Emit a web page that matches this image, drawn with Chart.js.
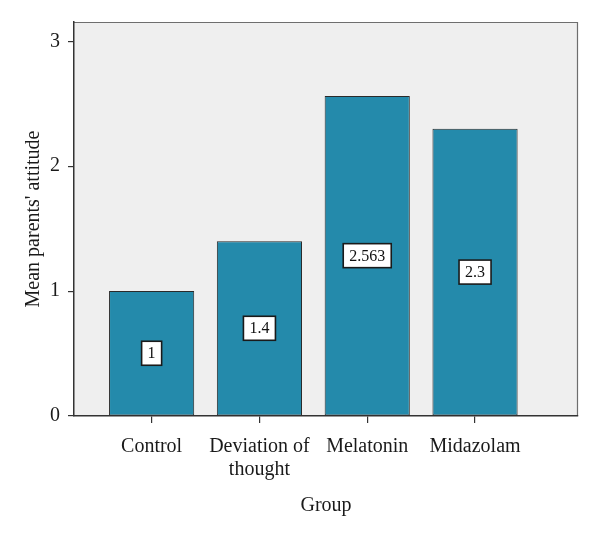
<!DOCTYPE html>
<html>
<head>
<meta charset="utf-8">
<script src="https://cdn.jsdelivr.net/npm/chart.js@4/dist/chart.umd.min.js"></script>
<style>
  html, body { margin: 0; padding: 0; background: #fff; }
  #wrap { width: 600px; height: 538px; }
</style>
</head>
<body>
<div id="wrap"><canvas id="grafico"></canvas></div>
<script>
const groups = ["Control", ["Deviation of", "thought"], "Melatonin", "Midazolam"];
const meanAttitude = [1, 1.4, 2.563, 2.3];
const valueLabels = ["1", "1.4", "2.563", "2.3"];
const yTicks = [0, 1, 2, 3];

const SERIF = "'Liberation Serif', 'DejaVu Serif', serif";

// plot background and frame
const plotFrame = {
  id: "plotFrame",
  beforeDraw(chart) {
    const { ctx, chartArea: a } = chart;
    ctx.save();
    ctx.fillStyle = "#efefef";
    ctx.fillRect(a.left, a.top, a.right - a.left, a.bottom - a.top);
    ctx.strokeStyle = "#6e6e6e";
    ctx.lineWidth = 1.2;
    ctx.beginPath();
    ctx.moveTo(a.left, a.top + 0.5);
    ctx.lineTo(a.right - 0.5, a.top + 0.5);
    ctx.lineTo(a.right - 0.5, a.bottom);
    ctx.stroke();
    ctx.restore();
  },
};

// white value boxes in the middle of each bar
const valueBoxes = {
  id: "valueBoxes",
  afterDatasetsDraw(chart) {
    const { ctx } = chart;
    const meta = chart.getDatasetMeta(0);
    ctx.save();
    ctx.font = "16px " + SERIF;
    ctx.textAlign = "center";
    ctx.textBaseline = "middle";
    meta.data.forEach((bar, i) => {
      const text = valueLabels[i];
      const cx = bar.x;
      const cy = (bar.y + bar.base) / 2;
      const w = ctx.measureText(text).width + 12;
      const h = 24;
      ctx.fillStyle = "#ffffff";
      ctx.fillRect(cx - w / 2, cy - h / 2, w, h);
      ctx.strokeStyle = "#1a1a1a";
      ctx.lineWidth = 1.6;
      ctx.strokeRect(cx - w / 2, cy - h / 2, w, h);
      ctx.fillStyle = "#111";
      ctx.fillText(text, cx, cy + 1);
    });
    ctx.restore();
  },
};

new Chart(document.getElementById("grafico"), {
  type: "bar",
  data: {
    datasets: [
      {
        data: meanAttitude.map((v, i) => ({ x: i, y: v })),
        backgroundColor: "rgb(36, 138, 171)",
        borderColor: "#2a2a2a",
        borderWidth: 1,
        borderSkipped: false,
        barPercentage: 0.79,
        categoryPercentage: 1,
      },
    ],
  },
  options: {
    responsive: true,
    maintainAspectRatio: false,
    animation: false,
    layout: { padding: { top: 22, right: 22, left: 22, bottom: 0 } },
    plugins: {
      legend: { display: false },
      tooltip: { enabled: false },
    },
    scales: {
      x: {
        type: "linear",
        offset: false,
        min: -0.72,
        max: 3.955,
        afterBuildTicks: (scale) => {
          scale.ticks = groups.map((_, i) => ({ value: i }));
        },
        afterFit: (scale) => {
          scale.height = 122;
        },
        ticks: {
          autoSkip: false,
          maxRotation: 0,
          padding: 12,
          color: "#1a1a1a",
          font: { family: SERIF, size: 20, lineHeight: 1.15 },
          callback: (v) => groups[v],
        },
        grid: {
          offset: false,
          drawOnChartArea: false,
          drawTicks: true,
          tickLength: 7,
          color: "#333",
          lineWidth: 1.2,
        },
        border: { display: true, color: "#333", width: 1.5 },
        title: {
          display: true,
          text: "Group",
          color: "#1a1a1a",
          font: { family: SERIF, size: 20 },
          padding: { top: 4, bottom: 20 },
        },
      },
      y: {
        min: 0,
        max: 3.155,
        afterBuildTicks: (scale) => {
          scale.ticks = yTicks.map((v) => ({ value: v }));
        },
        afterFit: (scale) => {
          scale.width = 52;
        },
        ticks: {
          padding: 8,
          color: "#1a1a1a",
          font: { family: SERIF, size: 20 },
        },
        grid: {
          drawOnChartArea: false,
          drawTicks: true,
          tickLength: 6,
          color: "#333",
          lineWidth: 1.2,
        },
        border: { display: true, color: "#333", width: 1.5 },
        title: {
          display: true,
          text: "Mean parents' attitude",
          color: "#1a1a1a",
          font: { family: SERIF, size: 20 },
          padding: { top: 0, bottom: 0 },
        },
      },
    },
  },
  plugins: [plotFrame, valueBoxes],
});
</script>
</body>
</html>
